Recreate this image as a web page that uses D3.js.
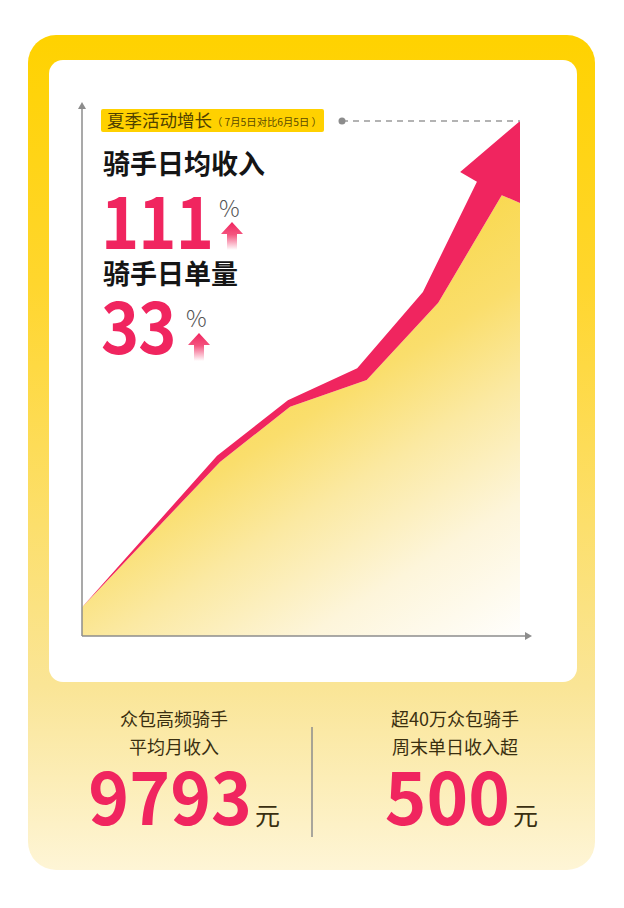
<!DOCTYPE html>
<html>
<head>
<meta charset="utf-8">
<script src="https://cdn.jsdelivr.net/npm/d3@7"></script>
<style>
  html, body { margin: 0; padding: 0; background: #ffffff; }
  svg { display: block; }
  text { font-family: "Noto Sans CJK SC", "Noto Sans", sans-serif; }
</style>
</head>
<body>
<svg id="chart" width="624" height="908"></svg>
<script>
// growth curve, June 5 (day 0) to July 5 (day 30), index 0..100
const upperDays = [0, 9.25, 14.1, 18.85, 23.35, 27.05];
const upperValues = [5.6, 35.0, 45.8, 52.0, 66.8, 88.2];
const barbDay = 25.9, barbValue = 90.1;
const tipDay = 30, tipValue = 100;
const lowerDays = [0, 9.45, 14.25, 19.5, 24.4, 28.75, 30];
const lowerValues = [5.6, 33.8, 44.5, 49.7, 64.7, 85.6, 84.1];

const titleLabel = "夏季活动增长";
const titleNote = "（ 7月5日对比6月5日 ）";
const metricNames = ["骑手日均收入", "骑手日单量"];
const metricValues = ["111", "33"];
const leftLines = ["众包高频骑手", "平均月收入"];
const rightLines = ["超40万众包骑手", "周末单日收入超"];
const bottomValues = ["9793", "500"];

const pink = "#F0255F";
const svg = d3.select("#chart");
const defs = svg.append("defs");

// outer card gradient
const cardGrad = defs.append("linearGradient")
		.attr("id", "cardGrad").attr("x1", 0).attr("y1", 0).attr("x2", 0).attr("y2", 1);
cardGrad.append("stop").attr("offset", "0%").attr("stop-color", "#FFD200");
cardGrad.append("stop").attr("offset", "30%").attr("stop-color", "#FFD62E");
cardGrad.append("stop").attr("offset", "78%").attr("stop-color", "#FAE596");
cardGrad.append("stop").attr("offset", "100%").attr("stop-color", "#FEF5D6");

// area gradient
const areaGrad = defs.append("linearGradient")
		.attr("id", "areaGrad").attr("gradientUnits", "userSpaceOnUse")
		.attr("x1", 250).attr("y1", 330).attr("x2", 470).attr("y2", 680);
areaGrad.append("stop").attr("offset", "0%").attr("stop-color", "#F9D84C");
areaGrad.append("stop").attr("offset", "25%").attr("stop-color", "#FADE6C");
areaGrad.append("stop").attr("offset", "45%").attr("stop-color", "#FBE9A2");
areaGrad.append("stop").attr("offset", "70%").attr("stop-color", "#FDF5DA");
areaGrad.append("stop").attr("offset", "100%").attr("stop-color", "#FFFFFF");

// small up arrows
const upGrad = defs.append("linearGradient")
		.attr("id", "upGrad").attr("x1", 0).attr("y1", 0).attr("x2", 0).attr("y2", 1);
upGrad.append("stop").attr("offset", "0%").attr("stop-color", pink);
upGrad.append("stop").attr("offset", "45%").attr("stop-color", "#F4547F");
upGrad.append("stop").attr("offset", "100%").attr("stop-color", "#FFFFFF");

// card + white panel
svg.append("rect")
		.attr("x", 28).attr("y", 35).attr("width", 567).attr("height", 835)
		.attr("rx", 28).attr("fill", "url(#cardGrad)");
svg.append("rect")
		.attr("x", 49).attr("y", 60).attr("width", 528).attr("height", 622)
		.attr("rx", 14).attr("fill", "#ffffff");

// scales
const xScale = d3.scaleLinear().domain([0, 30]).range([82, 520]);
const yScale = d3.scaleLinear().domain([0, 100]).range([636, 121]);

// yellow area
const lowerPts = lowerDays.map((d, i) => [d, lowerValues[i]]);
const area = d3.area()
		.x(d => xScale(d[0]))
		.y0(yScale(0))
		.y1(d => yScale(d[1]));
svg.append("path")
		.datum(lowerPts)
		.attr("d", area)
		.attr("fill", "url(#areaGrad)");

// red arrow band
const upperPts = upperDays.map((d, i) => [d, upperValues[i]]);
const bandPts = upperPts
		.concat([[barbDay, barbValue], [tipDay, tipValue]])
		.concat(lowerPts.slice().reverse());
const line = d3.line()
		.x(d => xScale(d[0]))
		.y(d => yScale(d[1]));
svg.append("path")
		.attr("d", line(bandPts) + "Z")
		.attr("fill", pink);

// axes
const axisColor = "#8c8c8c";
svg.append("line")
		.attr("x1", xScale(0)).attr("x2", xScale(0))
		.attr("y1", yScale(0)).attr("y2", 106)
		.attr("stroke", axisColor).attr("stroke-width", 1.5);
svg.append("path")
		.attr("d", `M${xScale(0) - 4},${109} L${xScale(0)},${102} L${xScale(0) + 4},${109} Z`)
		.attr("fill", axisColor);
svg.append("line")
		.attr("x1", xScale(0)).attr("x2", 527)
		.attr("y1", yScale(0)).attr("y2", yScale(0))
		.attr("stroke", axisColor).attr("stroke-width", 1.5);
svg.append("path")
		.attr("d", `M${525},${yScale(0) - 4} L${532},${yScale(0)} L${525},${yScale(0) + 4} Z`)
		.attr("fill", axisColor);

// dashed reference line to the peak
svg.append("line")
		.attr("x1", 342).attr("x2", xScale(tipDay))
		.attr("y1", yScale(tipValue)).attr("y2", yScale(tipValue))
		.attr("stroke", "#9a9a9a").attr("stroke-width", 1.5)
		.attr("stroke-dasharray", "6,5");
svg.append("circle")
		.attr("cx", 342).attr("cy", yScale(tipValue)).attr("r", 3.5)
		.attr("fill", "#8c8c8c");

// title tag
svg.append("rect")
		.attr("x", 101).attr("y", 109).attr("width", 223).attr("height", 23)
		.attr("rx", 2).attr("fill", "#FFD100");
svg.append("text")
		.attr("x", 107).attr("y", 127)
		.attr("font-size", 17.5).attr("fill", "#4f4200")
		.text(titleLabel);
svg.append("text")
		.attr("x", 212).attr("y", 125.5)
		.attr("font-size", 10.3).attr("fill", "#5a4a00")
		.text(titleNote);

// metrics
const metricLayout = [
	{ nameY: 174, valueY: 249, pctX: 219, pctY: 217, arrowX: 232, arrowY: 222 },
	{ nameY: 284, valueY: 354, pctX: 186, pctY: 327, arrowX: 199, arrowY: 333 }
];
metricNames.forEach((name, i) => {
	const m = metricLayout[i];
	svg.append("text")
			.attr("x", 103).attr("y", m.nameY)
			.attr("font-size", 27).attr("font-weight", 700).attr("fill", "#151515")
			.text(name);
	svg.append("text")
			.attr("transform", `translate(101,${m.valueY}) scale(0.9,1)`)
			.attr("font-size", 72).attr("font-weight", 700).attr("fill", pink)
			.attr("letter-spacing", -1)
			.text(metricValues[i]);
	svg.append("text")
			.attr("x", m.pctX).attr("y", m.pctY)
			.attr("font-size", 23).attr("font-weight", 300).attr("fill", "#555555")
			.text("%");
	const ax = m.arrowX, ay = m.arrowY;
	svg.append("path")
			.attr("d", `M${ax},${ay} L${ax + 11},${ay + 12} L${ax + 5},${ay + 12} L${ax + 5},${ay + 28}
				L${ax - 5},${ay + 28} L${ax - 5},${ay + 12} L${ax - 11},${ay + 12} Z`)
			.attr("fill", "url(#upGrad)");
});

// bottom stats
const textDark = "#3a2f10";
const columns = [
	{ cx: 174, lines: leftLines, numEnd: 252, scaleX: 0.95, value: bottomValues[0] },
	{ cx: 455, lines: rightLines, numEnd: 510, scaleX: 0.97, value: bottomValues[1] }
];
columns.forEach(c => {
	c.lines.forEach((t, j) => {
		svg.append("text")
				.attr("x", c.cx).attr("y", 726 + j * 28)
				.attr("text-anchor", "middle")
				.attr("font-size", 18).attr("fill", textDark)
				.text(t);
	});
	svg.append("text")
			.attr("transform", `translate(${c.numEnd},825) scale(${c.scaleX},1)`)
			.attr("text-anchor", "end")
			.attr("font-size", 73).attr("font-weight", 700).attr("fill", pink)
			.text(c.value);
	svg.append("text")
			.attr("x", c.numEnd + 3).attr("y", 825)
			.attr("font-size", 25).attr("fill", textDark)
			.text("元");
});

svg.append("line")
		.attr("x1", 312).attr("x2", 312)
		.attr("y1", 727).attr("y2", 837)
		.attr("stroke", "#8c8c8c").attr("stroke-width", 1.5);
</script>
</body>
</html>
